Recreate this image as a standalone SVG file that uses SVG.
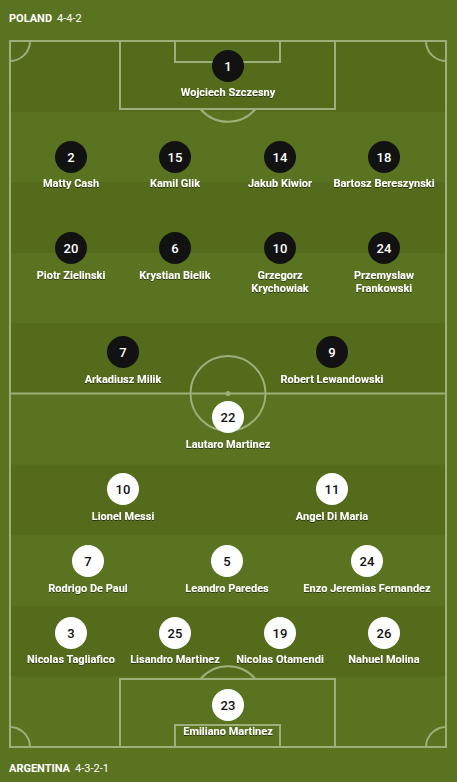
<svg xmlns="http://www.w3.org/2000/svg" width="457" height="782" viewBox="0 0 457 782">
<style>
.line{fill:none;stroke:#9db07a;stroke-width:2}
.stripe{fill:#536b1a}
.hdr{font-family:Roboto,"Liberation Sans",sans-serif;font-size:11px;fill:#fff}
.name{font-family:Roboto,"Liberation Sans",sans-serif;font-size:11px;font-weight:bold;fill:#fff;text-anchor:middle;filter:url(#sh)}
.pl circle{fill:#121212}
.pl text.num{font-family:Roboto,"Liberation Sans",sans-serif;font-size:13px;font-weight:500;fill:#fff;text-anchor:middle}
.ar circle{fill:#fff}
.ar text.num{font-family:Roboto,"Liberation Sans",sans-serif;font-size:13px;font-weight:500;fill:#111;text-anchor:middle}
</style>
<defs>
<filter id="sh" x="-10%" y="-30%" width="120%" height="160%">
<feDropShadow dx="0" dy="1" stdDeviation="0.6" flood-color="#000" flood-opacity="0.5"/>
</filter>
</defs>
<rect width="457" height="782" fill="#5a7320"/>
<g id="stripes">
<rect class="stripe" x="10" y="41" width="436" height="70.6"/>
<rect class="stripe" x="10" y="182.2" width="436" height="70.6"/>
<rect class="stripe" x="10" y="323.4" width="436" height="70.6"/>
<rect class="stripe" x="10" y="464.6" width="436" height="70.6"/>
<rect class="stripe" x="10" y="605.8" width="436" height="70.6"/>
</g>
<g id="pitch-lines">
<rect class="line" x="10" y="41" width="436" height="706"/>
<line class="line" x1="10" y1="393.5" x2="446" y2="393.5"/>
<circle class="line" cx="228" cy="393.5" r="37.5"/>
<circle cx="228" cy="393.5" r="2.5" fill="#9db07a"/>
<rect class="line" x="120" y="41" width="215" height="68"/>
<rect class="line" x="175" y="41" width="105" height="21"/>
<path class="line" d="M200.5 109 A36 36 0 0 0 255.5 109"/>
<rect class="line" x="120" y="679" width="215" height="68"/>
<rect class="line" x="175" y="725" width="105" height="22"/>
<path class="line" d="M200.5 679 A36 36 0 0 1 255.5 679"/>
<path class="line" d="M10 61 A20 20 0 0 0 30 41"/>
<path class="line" d="M426 41 A20 20 0 0 0 446 61"/>
<path class="line" d="M10 727 A20 20 0 0 1 30 747"/>
<path class="line" d="M426 747 A20 20 0 0 1 446 727"/>
</g>
<g id="header-poland">
<text class="hdr" x="9" y="22"><tspan font-weight="bold">POLAND</tspan><tspan dx="5">4-4-2</tspan></text>
</g>
<g id="header-argentina">
<text class="hdr" x="9" y="772"><tspan font-weight="bold">ARGENTINA</tspan><tspan dx="5">4-3-2-1</tspan></text>
</g>
<g id="connectors"></g>
<g class="pl">
<g id="pol-1"><circle cx="228" cy="66" r="16"/><text class="num" x="228" y="70.5">1</text><text class="name" x="228" y="96">Wojciech Szczesny</text></g>
<g id="pol-2"><circle cx="71" cy="157" r="16"/><text class="num" x="71" y="161.5">2</text><text class="name" x="71" y="187">Matty Cash</text></g>
<g id="pol-15"><circle cx="175" cy="157" r="16"/><text class="num" x="175" y="161.5">15</text><text class="name" x="175" y="187">Kamil Glik</text></g>
<g id="pol-14"><circle cx="280" cy="157" r="16"/><text class="num" x="280" y="161.5">14</text><text class="name" x="280" y="187">Jakub Kiwior</text></g>
<g id="pol-18"><circle cx="384" cy="157" r="16"/><text class="num" x="384" y="161.5">18</text><text class="name" x="384" y="187">Bartosz Bereszynski</text></g>
<g id="pol-20"><circle cx="71" cy="248" r="16"/><text class="num" x="71" y="252.5">20</text><text class="name" x="71" y="279">Piotr Zielinski</text></g>
<g id="pol-6"><circle cx="175" cy="248" r="16"/><text class="num" x="175" y="252.5">6</text><text class="name" x="175" y="279">Krystian Bielik</text></g>
<g id="pol-10"><circle cx="280" cy="248" r="16"/><text class="num" x="280" y="252.5">10</text><text class="name" x="280" y="279">Grzegorz</text><text class="name" x="280" y="291.5">Krychowiak</text></g>
<g id="pol-24"><circle cx="384" cy="248" r="16"/><text class="num" x="384" y="252.5">24</text><text class="name" x="384" y="279">Przemyslaw</text><text class="name" x="384" y="291.5">Frankowski</text></g>
<g id="pol-7"><circle cx="123" cy="352" r="16"/><text class="num" x="123" y="356.5">7</text><text class="name" x="123" y="383">Arkadiusz Milik</text></g>
<g id="pol-9"><circle cx="332" cy="352" r="16"/><text class="num" x="332" y="356.5">9</text><text class="name" x="332" y="383">Robert Lewandowski</text></g>
</g>
<g class="ar">
<g id="arg-22"><circle cx="228" cy="417" r="16"/><text class="num" x="228" y="421.5">22</text><text class="name" x="228" y="448">Lautaro Martinez</text></g>
<g id="arg-10"><circle cx="123" cy="489" r="16"/><text class="num" x="123" y="493.5">10</text><text class="name" x="123" y="520">Lionel Messi</text></g>
<g id="arg-11"><circle cx="332" cy="489" r="16"/><text class="num" x="332" y="493.5">11</text><text class="name" x="332" y="520">Angel Di Maria</text></g>
<g id="arg-7"><circle cx="88" cy="561" r="16"/><text class="num" x="88" y="565.5">7</text><text class="name" x="88" y="592">Rodrigo De Paul</text></g>
<g id="arg-5"><circle cx="227" cy="561" r="16"/><text class="num" x="227" y="565.5">5</text><text class="name" x="227" y="592">Leandro Paredes</text></g>
<g id="arg-24"><circle cx="367" cy="561" r="16"/><text class="num" x="367" y="565.5">24</text><text class="name" x="367" y="592">Enzo Jeremias Fernandez</text></g>
<g id="arg-3"><circle cx="71" cy="633" r="16"/><text class="num" x="71" y="637.5">3</text><text class="name" x="71" y="663">Nicolas Tagliafico</text></g>
<g id="arg-25"><circle cx="175" cy="633" r="16"/><text class="num" x="175" y="637.5">25</text><text class="name" x="175" y="663">Lisandro Martinez</text></g>
<g id="arg-19"><circle cx="280" cy="633" r="16"/><text class="num" x="280" y="637.5">19</text><text class="name" x="280" y="663">Nicolas Otamendi</text></g>
<g id="arg-26"><circle cx="384" cy="633" r="16"/><text class="num" x="384" y="637.5">26</text><text class="name" x="384" y="663">Nahuel Molina</text></g>
<g id="arg-23"><circle cx="228" cy="705" r="16"/><text class="num" x="228" y="709.5">23</text><text class="name" x="228" y="735">Emiliano Martinez</text></g>
</g>
</svg>
